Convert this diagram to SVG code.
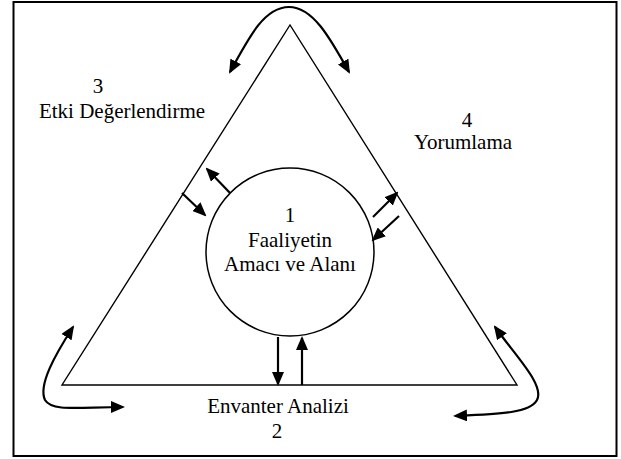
<svg xmlns="http://www.w3.org/2000/svg" width="621" height="459" viewBox="0 0 621 459">
<style>
.t{font-family:"Liberation Serif","Times New Roman",serif;font-size:21px;fill:#000;text-anchor:middle}
.ar{fill:none;stroke:#000;stroke-width:2.2;marker-end:url(#ah)}
.ar2{fill:none;stroke:#000;stroke-width:2.2;marker-start:url(#ah);marker-end:url(#ah)}
</style>
<defs>
<marker id="ah" viewBox="0 0 14 12" refX="12" refY="6" markerWidth="14" markerHeight="12" markerUnits="userSpaceOnUse" orient="auto-start-reverse"><path d="M0,0 L14,6 L0,12 z" fill="#000"/></marker>
</defs>
<rect x="0" y="0" width="621" height="459" fill="#fff"/>
<rect x="13.5" y="2" width="603" height="454" fill="none" stroke="#000" stroke-width="2"/>
<g id="triangle"><polygon points="290,25 62,385 517,385" fill="none" stroke="#000" stroke-width="1.4"/></g>
<g id="node1"><circle cx="290" cy="252" r="84" fill="#fff" stroke="#000" stroke-width="1.5"/>
<text class="t" x="290" y="222">1</text>
<text class="t" x="290" y="247">Faaliyetin</text>
<text class="t" x="290" y="271">Amacı ve Alanı</text></g>
<g id="node3"><text class="t" x="98" y="93">3</text><text class="t" x="122" y="118">Etki Değerlendirme</text></g>
<g id="node4"><text class="t" x="467" y="127">4</text><text class="t" x="463" y="149">Yorumlama</text></g>
<g id="node2"><text class="t" x="278" y="413">Envanter Analizi</text><text class="t" x="277" y="438">2</text></g>
<g id="connectors">
<path class="ar2" d="M230,72 C250,35 265,7 289,7 C313,7 330,38 349,72"/>
<path class="ar2" d="M73,327 C55,355 38,385 45,400 C52,412 80,407 123,407"/>
<path class="ar2" d="M495,327 C515,355 545,385 537,400 C530,413 500,414 455,416"/>
<path class="ar" d="M182,193 L205,215"/>
<path class="ar" d="M230,193 L207,169"/>
<path class="ar" d="M373,217 L397,193"/>
<path class="ar" d="M399,216 L373,240"/>
<path class="ar" d="M278,337 L278,384"/>
<path class="ar" d="M302,385 L302,338"/>
</g>
</svg>
